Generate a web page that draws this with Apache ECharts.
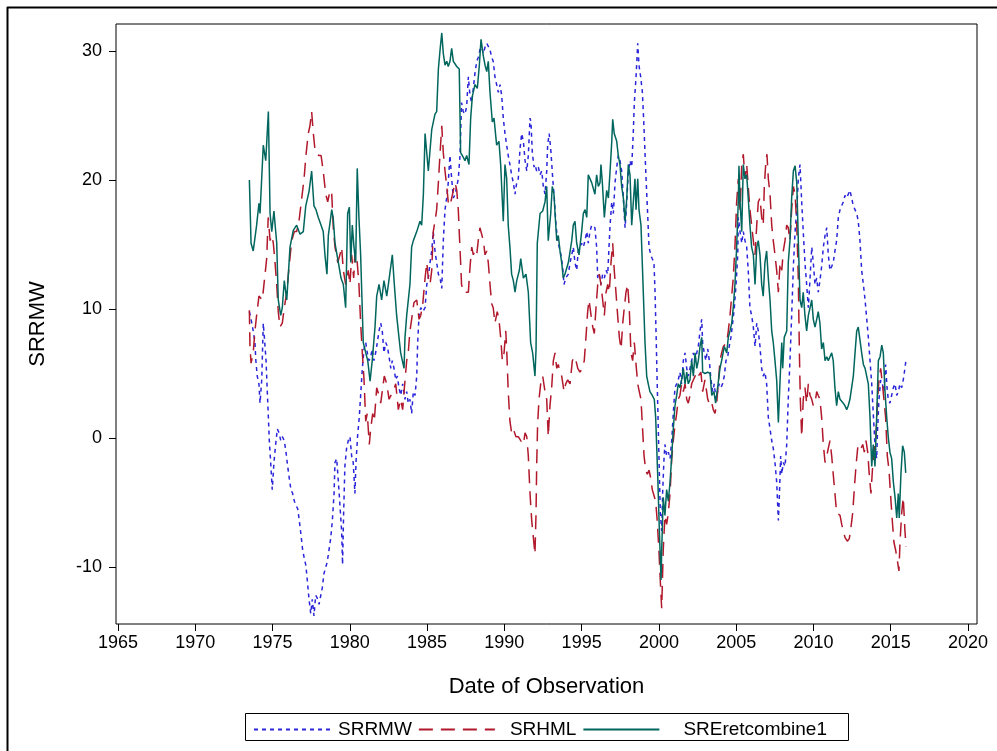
<!DOCTYPE html>
<html>
<head>
    <meta charset="utf-8">
    <title>SRRMW</title>
    <script src="https://cdn.jsdelivr.net/npm/echarts@6/dist/echarts.min.js"></script>
    <style>
        html, body { margin: 0; padding: 0; background: #fff; }
        #main { width: 997px; height: 751px; }
    </style>
</head>
<body>
<div id="main"></div>
<script type="text/javascript">
    // values: [decimal year, value]
    var srrmw = [[1973.50,9.8],[1973.61,9.2],[1973.75,8.3],[1973.86,7.4],[1973.92,6.0],[1974.01,4.8],[1974.12,4.2],[1974.19,2.7],[1974.30,4.5],[1974.40,8.9],[1974.47,7.8],[1974.58,6.0],[1974.66,3.6],[1974.73,1.6],[1974.79,-0.2],[1974.88,-1.9],[1974.98,-4.0],[1975.09,-1.9],[1975.20,-0.5],[1975.31,0.7],[1975.42,0.4],[1975.53,-0.2],[1975.63,0.1],[1975.76,-0.2],[1975.87,-1.1],[1975.98,-2.2],[1976.08,-3.1],[1976.19,-4.0],[1976.30,-4.3],[1976.41,-4.9],[1976.52,-5.2],[1976.63,-5.5],[1976.73,-6.4],[1976.84,-7.5],[1976.95,-8.7],[1977.05,-9.3],[1977.16,-9.9],[1977.27,-11.3],[1977.36,-12.5],[1977.47,-13.6],[1977.57,-12.5],[1977.68,-13.8],[1977.79,-12.2],[1977.89,-12.4],[1978.01,-12.9],[1978.12,-12.8],[1978.22,-11.6],[1978.33,-10.5],[1978.44,-10.5],[1978.54,-9.6],[1978.65,-8.7],[1978.76,-7.8],[1978.87,-6.4],[1978.98,-4.3],[1979.04,-1.9],[1979.15,-1.6],[1979.26,-3.4],[1979.36,-5.2],[1979.47,-7.2],[1979.53,-9.8],[1979.60,-5.8],[1979.68,-2.2],[1979.79,-0.8],[1979.90,-0.2],[1980.01,0.1],[1980.12,-1.4],[1980.22,-1.9],[1980.33,-4.3],[1980.40,-1.9],[1980.50,0.1],[1980.61,1.6],[1980.70,3.3],[1980.81,5.4],[1980.92,6.9],[1981.03,7.4],[1981.13,6.6],[1981.24,6.0],[1981.35,6.3],[1981.45,6.9],[1981.56,6.0],[1981.67,6.6],[1981.78,7.4],[1981.89,8.3],[1982.00,8.9],[1982.10,8.3],[1982.21,6.6],[1982.32,7.4],[1982.43,7.1],[1982.54,6.3],[1982.65,5.4],[1982.75,6.0],[1982.86,5.4],[1982.97,4.5],[1983.07,4.8],[1983.18,3.9],[1983.29,3.3],[1983.42,4.2],[1983.57,3.0],[1983.68,3.6],[1983.78,2.7],[1983.89,3.0],[1984.00,1.9],[1984.11,3.6],[1984.22,3.3],[1984.33,4.8],[1984.39,7.4],[1984.48,9.5],[1984.59,10.1],[1984.72,9.8],[1984.87,10.1],[1984.98,11.9],[1985.08,12.4],[1985.19,13.6],[1985.30,14.5],[1985.40,16.0],[1985.51,14.5],[1985.62,13.6],[1985.73,12.7],[1985.84,12.4],[1985.95,11.6],[1986.05,15.3],[1986.16,17.7],[1986.27,18.6],[1986.37,19.8],[1986.48,21.9],[1986.59,20.1],[1986.70,18.6],[1986.81,18.9],[1986.92,19.5],[1987.02,20.1],[1987.13,21.9],[1987.23,26.0],[1987.34,25.3],[1987.45,25.1],[1987.56,25.7],[1987.67,28.0],[1987.78,26.5],[1987.89,26.0],[1987.99,27.1],[1988.10,28.3],[1988.21,29.2],[1988.31,29.5],[1988.42,30.1],[1988.53,30.3],[1988.64,29.8],[1988.75,30.3],[1988.86,30.6],[1988.96,30.5],[1989.07,30.1],[1989.18,29.5],[1989.28,29.2],[1989.39,28.0],[1989.50,27.4],[1989.61,26.8],[1989.72,27.4],[1989.83,26.5],[1989.93,24.8],[1990.04,23.6],[1990.15,22.7],[1990.25,21.9],[1990.36,21.2],[1990.47,20.4],[1990.58,19.8],[1990.69,18.9],[1990.80,19.8],[1990.90,20.1],[1991.01,22.4],[1991.12,23.6],[1991.23,23.0],[1991.34,21.5],[1991.45,20.7],[1991.55,21.9],[1991.66,24.8],[1991.72,24.5],[1991.81,22.1],[1991.92,21.0],[1991.98,21.2],[1992.09,20.7],[1992.20,21.0],[1992.31,20.4],[1992.42,20.7],[1992.52,19.5],[1992.63,18.9],[1992.74,20.7],[1992.80,22.7],[1992.90,23.6],[1993.02,22.1],[1993.13,20.1],[1993.23,18.6],[1993.34,16.5],[1993.45,15.3],[1993.55,14.8],[1993.66,14.2],[1993.77,13.3],[1993.86,11.9],[1993.97,12.4],[1994.14,12.7],[1994.25,13.6],[1994.36,14.2],[1994.46,14.8],[1994.57,13.6],[1994.68,13.0],[1994.78,14.5],[1994.89,14.8],[1995.00,15.1],[1995.11,14.8],[1995.22,15.3],[1995.33,16.0],[1995.43,15.1],[1995.54,16.0],[1995.65,16.5],[1995.75,16.4],[1995.86,16.3],[1995.97,14.8],[1996.04,12.4],[1996.14,12.7],[1996.25,11.9],[1996.36,12.7],[1996.47,12.4],[1996.58,13.0],[1996.69,12.7],[1996.77,14.8],[1996.84,16.5],[1996.95,18.3],[1997.05,17.4],[1997.16,19.8],[1997.27,21.0],[1997.37,21.9],[1997.48,21.5],[1997.59,20.7],[1997.70,18.6],[1997.81,16.3],[1997.92,18.3],[1998.02,20.7],[1998.13,21.5],[1998.24,21.0],[1998.34,23.6],[1998.41,26.0],[1998.52,28.0],[1998.63,30.6],[1998.71,28.9],[1998.82,28.0],[1998.93,26.8],[1999.02,24.5],[1999.10,22.1],[1999.18,19.8],[1999.27,17.4],[1999.36,14.8],[1999.47,14.2],[1999.57,13.9],[1999.68,13.6],[1999.75,11.3],[1999.83,7.4],[1999.89,4.2],[1999.96,0.7],[2000.03,-2.8],[2000.09,-5.8],[2000.18,-7.2],[2000.24,-4.3],[2000.33,-1.6],[2000.39,-0.5],[2000.50,-1.4],[2000.61,-1.1],[2000.72,-1.6],[2000.83,-0.2],[2000.93,1.9],[2001.04,3.9],[2001.15,4.2],[2001.25,4.5],[2001.36,5.1],[2001.47,4.2],[2001.58,6.0],[2001.69,6.6],[2001.80,5.4],[2001.90,4.8],[2002.01,5.4],[2002.12,6.0],[2002.23,6.6],[2002.34,6.0],[2002.45,6.6],[2002.55,7.1],[2002.66,8.3],[2002.77,9.2],[2002.83,7.4],[2002.93,6.6],[2003.04,6.0],[2003.16,6.9],[2003.26,6.0],[2003.37,4.5],[2003.48,3.6],[2003.58,4.2],[2003.69,3.0],[2003.80,3.6],[2003.90,4.2],[2004.01,3.9],[2004.12,4.2],[2004.23,4.8],[2004.34,6.0],[2004.45,6.3],[2004.55,7.1],[2004.66,7.8],[2004.77,8.9],[2004.88,10.1],[2004.99,11.9],[2005.10,14.2],[2005.14,17.1],[2005.25,16.0],[2005.36,15.1],[2005.46,16.0],[2005.57,15.3],[2005.68,14.8],[2005.78,13.0],[2005.89,10.1],[2006.00,9.5],[2006.11,8.6],[2006.22,7.1],[2006.33,8.9],[2006.43,8.3],[2006.54,7.1],[2006.65,5.4],[2006.75,4.8],[2006.86,5.1],[2006.97,4.2],[2007.08,1.6],[2007.19,0.7],[2007.30,-0.2],[2007.40,-0.8],[2007.51,-1.9],[2007.62,-3.4],[2007.73,-6.4],[2007.79,-4.6],[2007.88,-1.4],[2007.95,-2.8],[2008.05,-1.9],[2008.16,-2.2],[2008.27,-0.5],[2008.37,3.0],[2008.48,6.0],[2008.59,9.5],[2008.70,13.3],[2008.81,16.0],[2008.92,17.7],[2009.02,20.1],[2009.13,21.2],[2009.24,18.3],[2009.34,16.0],[2009.45,13.6],[2009.56,11.9],[2009.67,10.1],[2009.78,12.4],[2009.89,14.8],[2009.99,13.6],[2010.10,11.9],[2010.21,12.4],[2010.31,11.3],[2010.42,12.2],[2010.53,13.3],[2010.64,14.8],[2010.75,15.7],[2010.86,16.3],[2010.96,14.2],[2011.07,13.0],[2011.18,13.3],[2011.28,13.6],[2011.39,14.5],[2011.50,15.3],[2011.61,17.1],[2011.72,17.7],[2011.83,17.7],[2011.93,18.3],[2012.04,18.8],[2012.15,18.6],[2012.25,18.9],[2012.36,19.2],[2012.47,18.6],[2012.58,18.0],[2012.69,18.0],[2012.80,17.4],[2012.90,16.8],[2013.01,15.3],[2013.12,13.0],[2013.23,11.9],[2013.34,10.7],[2013.45,9.2],[2013.55,7.8],[2013.66,6.0],[2013.77,4.2],[2013.87,1.9],[2013.98,-0.5],[2014.09,-1.6],[2014.15,0.7],[2014.24,3.0],[2014.35,4.5],[2014.46,4.2],[2014.56,3.6],[2014.67,5.7],[2014.76,3.9],[2014.84,3.0],[2014.95,2.7],[2015.06,3.3],[2015.17,3.9],[2015.28,4.2],[2015.39,3.3],[2015.49,3.6],[2015.60,4.2],[2015.71,3.9],[2015.81,4.5],[2015.92,5.4],[2015.99,6.1]];

    var srhml = [[1973.50,9.9],[1973.54,7.1],[1973.61,5.8],[1973.75,6.6],[1973.86,8.3],[1973.97,9.5],[1974.12,11.0],[1974.34,10.7],[1974.47,12.2],[1974.62,13.9],[1974.72,17.1],[1974.84,15.3],[1974.95,15.7],[1975.05,15.1],[1975.16,13.6],[1975.27,11.9],[1975.37,9.8],[1975.48,8.6],[1975.63,8.9],[1975.76,10.1],[1975.92,11.3],[1976.07,13.3],[1976.24,15.3],[1976.41,16.0],[1976.56,16.0],[1976.71,16.8],[1976.89,18.6],[1977.04,20.1],[1977.16,21.9],[1977.31,23.6],[1977.42,24.2],[1977.53,25.3],[1977.64,23.6],[1977.75,22.3],[1977.86,22.0],[1978.01,21.9],[1978.14,21.9],[1978.28,20.7],[1978.44,18.9],[1978.57,18.3],[1978.72,19.2],[1978.83,18.9],[1978.93,16.3],[1979.04,14.8],[1979.22,13.6],[1979.36,14.2],[1979.47,14.8],[1979.58,13.0],[1979.73,11.9],[1979.90,13.0],[1980.01,11.9],[1980.12,14.2],[1980.25,12.4],[1980.34,14.5],[1980.48,13.6],[1980.59,11.9],[1980.70,8.9],[1980.81,6.6],[1980.92,4.5],[1981.03,1.3],[1981.13,1.9],[1981.26,-0.5],[1981.35,0.7],[1981.48,1.9],[1981.58,1.3],[1981.74,3.9],[1981.89,3.3],[1982.00,2.7],[1982.13,3.9],[1982.23,4.8],[1982.39,4.2],[1982.54,3.0],[1982.66,3.3],[1982.81,3.6],[1982.97,4.2],[1983.14,2.2],[1983.29,3.0],[1983.42,2.2],[1983.51,3.6],[1983.68,6.0],[1983.78,6.6],[1983.89,8.3],[1984.00,9.2],[1984.15,10.5],[1984.33,10.7],[1984.48,9.2],[1984.59,9.5],[1984.72,10.4],[1984.87,12.4],[1984.98,13.6],[1985.08,12.4],[1985.19,11.9],[1985.30,13.0],[1985.40,16.0],[1985.51,16.8],[1985.62,17.7],[1985.73,19.8],[1985.84,22.1],[1985.95,24.2],[1986.05,22.1],[1986.16,20.7],[1986.27,19.5],[1986.37,18.3],[1986.48,18.0],[1986.59,18.6],[1986.70,18.6],[1986.81,19.8],[1986.92,19.2],[1987.02,17.7],[1987.08,16.0],[1987.17,13.6],[1987.23,11.9],[1987.34,11.3],[1987.50,11.3],[1987.67,11.3],[1987.78,13.3],[1987.89,14.8],[1987.99,14.2],[1988.10,14.5],[1988.21,14.2],[1988.31,15.3],[1988.42,16.3],[1988.53,16.4],[1988.64,15.3],[1988.75,14.2],[1988.86,14.5],[1988.96,13.6],[1989.07,11.9],[1989.18,10.4],[1989.28,10.1],[1989.39,8.9],[1989.54,9.8],[1989.65,9.2],[1989.76,7.8],[1989.87,6.0],[1989.98,6.6],[1990.09,8.3],[1990.15,6.9],[1990.25,3.6],[1990.36,1.3],[1990.47,0.4],[1990.58,0.7],[1990.75,0.1],[1990.90,0.1],[1991.06,-0.2],[1991.23,-0.5],[1991.34,0.4],[1991.45,0.1],[1991.55,-1.4],[1991.66,-4.3],[1991.77,-6.4],[1991.87,-6.4],[1991.98,-9.0],[1992.05,-5.8],[1992.09,-2.2],[1992.15,1.0],[1992.24,3.0],[1992.35,4.2],[1992.48,4.8],[1992.63,3.6],[1992.74,3.0],[1992.84,0.1],[1992.95,2.5],[1993.06,3.9],[1993.17,6.0],[1993.28,6.6],[1993.39,5.4],[1993.49,5.7],[1993.60,5.1],[1993.71,4.8],[1993.86,3.6],[1993.97,4.2],[1994.10,4.5],[1994.25,4.2],[1994.40,6.0],[1994.57,6.3],[1994.75,5.4],[1994.89,5.1],[1995.04,5.4],[1995.17,6.0],[1995.28,7.8],[1995.39,9.8],[1995.48,10.7],[1995.61,9.5],[1995.72,8.6],[1995.82,8.1],[1995.93,10.1],[1996.04,11.9],[1996.14,12.7],[1996.25,11.9],[1996.36,10.7],[1996.47,9.5],[1996.58,11.3],[1996.69,11.9],[1996.79,11.3],[1996.90,13.6],[1997.01,15.1],[1997.11,13.0],[1997.22,11.3],[1997.33,9.5],[1997.44,7.8],[1997.55,6.9],[1997.66,8.9],[1997.76,10.1],[1997.87,11.3],[1997.98,11.9],[1998.08,10.1],[1998.19,6.6],[1998.30,6.0],[1998.41,7.4],[1998.52,5.7],[1998.63,4.2],[1998.73,3.6],[1998.84,3.0],[1998.93,1.0],[1999.04,-1.4],[1999.15,-2.5],[1999.25,-2.8],[1999.36,-2.5],[1999.47,-3.1],[1999.57,-4.0],[1999.68,-4.0],[1999.79,-4.9],[1999.89,-6.4],[2000.00,-8.7],[2000.11,-11.6],[2000.18,-13.2],[2000.28,-8.7],[2000.39,-6.0],[2000.50,-6.7],[2000.61,-5.8],[2000.72,-4.3],[2000.83,-1.6],[2000.93,-0.2],[2001.04,1.0],[2001.15,1.9],[2001.25,3.0],[2001.36,3.3],[2001.47,4.2],[2001.58,3.6],[2001.69,4.2],[2001.80,3.0],[2001.90,2.7],[2002.01,3.3],[2002.12,4.2],[2002.23,4.5],[2002.34,4.8],[2002.45,5.1],[2002.55,4.8],[2002.72,5.1],[2002.83,3.6],[2002.98,4.5],[2003.16,3.0],[2003.31,2.5],[2003.42,2.7],[2003.52,2.2],[2003.63,1.9],[2003.74,2.7],[2003.84,4.2],[2003.95,6.0],[2004.06,6.6],[2004.17,7.1],[2004.28,7.1],[2004.39,7.4],[2004.49,8.3],[2004.60,9.5],[2004.71,11.0],[2004.81,12.4],[2004.92,14.8],[2005.03,18.3],[2005.14,20.1],[2005.25,17.7],[2005.36,21.2],[2005.46,22.0],[2005.57,20.1],[2005.68,21.2],[2005.78,19.5],[2005.89,17.7],[2006.00,16.5],[2006.11,15.3],[2006.22,14.2],[2006.33,16.5],[2006.43,18.3],[2006.54,18.6],[2006.65,17.1],[2006.75,16.5],[2006.82,19.5],[2006.91,21.2],[2006.99,22.0],[2007.08,20.1],[2007.19,18.9],[2007.30,16.5],[2007.40,15.3],[2007.51,14.2],[2007.62,13.0],[2007.73,11.3],[2007.84,13.6],[2007.95,13.0],[2008.05,14.5],[2008.16,15.3],[2008.27,16.5],[2008.37,16.3],[2008.48,15.3],[2008.59,17.7],[2008.70,19.5],[2008.81,18.9],[2008.92,16.5],[2009.02,12.4],[2009.09,6.6],[2009.15,3.0],[2009.24,0.1],[2009.34,3.0],[2009.45,3.9],[2009.56,2.7],[2009.67,4.2],[2009.78,3.3],[2009.89,3.0],[2009.99,2.5],[2010.10,2.7],[2010.21,3.6],[2010.31,3.3],[2010.42,3.0],[2010.53,1.6],[2010.64,-0.5],[2010.75,-1.9],[2010.86,-1.4],[2010.96,-0.8],[2011.07,-0.2],[2011.18,-1.4],[2011.28,-2.8],[2011.39,-4.3],[2011.50,-5.8],[2011.61,-5.8],[2011.72,-6.0],[2011.83,-6.7],[2011.93,-7.2],[2012.04,-7.7],[2012.19,-8.0],[2012.32,-7.8],[2012.43,-6.9],[2012.54,-5.8],[2012.64,-4.0],[2012.75,-2.2],[2012.86,-0.8],[2012.97,-0.5],[2013.08,-0.8],[2013.19,-0.5],[2013.29,-1.1],[2013.40,-0.2],[2013.51,-1.1],[2013.61,-2.8],[2013.72,-4.3],[2013.83,-2.2],[2013.94,-0.8],[2014.04,0.1],[2014.15,3.0],[2014.24,4.5],[2014.35,5.4],[2014.46,4.2],[2014.56,3.0],[2014.67,1.6],[2014.78,-1.4],[2014.89,-2.5],[2015.00,-4.6],[2015.10,-6.4],[2015.21,-8.1],[2015.32,-8.7],[2015.43,-9.5],[2015.53,-10.3],[2015.60,-8.1],[2015.71,-5.8],[2015.81,-4.6],[2015.92,-7.2],[2015.99,-8.4]];

    var sreretcombine1 = [[1973.50,20.0],[1973.61,15.1],[1973.75,14.5],[1973.86,15.5],[1973.97,16.5],[1974.12,18.2],[1974.19,17.4],[1974.40,22.7],[1974.56,21.5],[1974.73,25.3],[1974.84,17.4],[1974.95,16.0],[1975.09,17.6],[1975.27,15.1],[1975.37,10.7],[1975.53,9.5],[1975.63,10.1],[1975.76,12.2],[1975.92,10.7],[1976.13,14.8],[1976.34,16.1],[1976.56,16.5],[1976.78,15.8],[1976.99,16.0],[1977.15,18.0],[1977.36,19.1],[1977.53,20.7],[1977.68,18.0],[1977.81,17.7],[1977.96,17.1],[1978.14,16.5],[1978.28,16.0],[1978.39,14.2],[1978.52,12.7],[1978.61,15.7],[1978.83,17.7],[1978.93,17.0],[1979.04,15.1],[1979.26,13.6],[1979.43,12.4],[1979.58,11.9],[1979.73,10.1],[1979.86,17.4],[1979.97,17.9],[1980.06,13.6],[1980.16,16.5],[1980.27,14.8],[1980.38,13.6],[1980.48,20.9],[1980.59,17.1],[1980.70,14.2],[1980.87,7.4],[1981.03,6.6],[1981.16,6.0],[1981.31,4.4],[1981.45,6.0],[1981.63,8.6],[1981.74,11.0],[1981.89,11.9],[1982.06,10.7],[1982.21,12.2],[1982.39,11.0],[1982.55,12.4],[1982.75,14.2],[1982.88,11.9],[1983.03,9.5],[1983.18,7.8],[1983.29,6.6],[1983.51,5.4],[1983.57,7.8],[1983.68,9.5],[1983.89,11.9],[1984.00,14.8],[1984.11,15.3],[1984.33,16.0],[1984.54,16.8],[1984.65,16.5],[1984.76,18.9],[1984.87,23.6],[1985.08,20.7],[1985.30,23.9],[1985.40,23.9],[1985.51,25.1],[1985.62,25.3],[1985.73,28.6],[1985.84,30.1],[1985.95,31.4],[1986.05,29.8],[1986.16,28.9],[1986.27,29.2],[1986.37,28.8],[1986.48,29.2],[1986.59,30.2],[1986.70,29.2],[1986.92,28.8],[1987.08,28.6],[1987.17,22.1],[1987.28,21.9],[1987.45,21.5],[1987.56,21.9],[1987.71,21.2],[1987.82,24.8],[1987.93,26.5],[1988.10,27.4],[1988.25,27.1],[1988.38,28.9],[1988.49,30.9],[1988.64,29.6],[1988.75,28.9],[1988.86,28.4],[1988.96,29.2],[1989.07,26.8],[1989.22,24.5],[1989.33,24.8],[1989.50,22.7],[1989.65,23.0],[1989.76,21.2],[1989.93,16.8],[1990.04,21.2],[1990.15,20.1],[1990.25,16.5],[1990.36,14.8],[1990.47,12.7],[1990.58,12.2],[1990.69,11.3],[1990.80,12.2],[1990.97,13.0],[1991.06,13.9],[1991.23,12.4],[1991.40,12.7],[1991.55,11.3],[1991.70,7.4],[1991.83,6.6],[1991.98,4.8],[1992.05,6.9],[1992.13,15.1],[1992.31,17.4],[1992.48,17.6],[1992.63,18.3],[1992.74,19.5],[1992.84,15.3],[1993.00,17.4],[1993.10,19.5],[1993.21,18.9],[1993.28,17.4],[1993.39,15.3],[1993.49,15.7],[1993.60,14.5],[1993.71,13.6],[1993.81,12.4],[1993.92,12.7],[1994.14,13.6],[1994.36,15.3],[1994.46,16.5],[1994.57,16.8],[1994.68,15.1],[1994.83,14.2],[1995.00,16.0],[1995.11,17.4],[1995.22,17.7],[1995.33,17.1],[1995.43,20.4],[1995.54,20.4],[1995.65,19.8],[1995.75,19.8],[1995.86,18.9],[1995.97,20.4],[1996.08,19.5],[1996.19,19.8],[1996.25,21.2],[1996.34,19.8],[1996.47,17.1],[1996.62,19.2],[1996.73,18.6],[1996.84,20.7],[1996.95,23.0],[1997.01,24.7],[1997.11,23.6],[1997.27,23.0],[1997.37,21.9],[1997.48,21.2],[1997.59,19.5],[1997.70,18.6],[1997.81,16.8],[1997.92,18.6],[1998.02,21.2],[1998.13,20.4],[1998.24,16.5],[1998.34,16.5],[1998.45,20.1],[1998.52,17.7],[1998.63,20.1],[1998.71,17.7],[1998.84,16.5],[1998.99,11.3],[1999.10,7.4],[1999.21,4.8],[1999.31,4.2],[1999.42,3.6],[1999.57,3.3],[1999.70,3.0],[1999.79,1.6],[1999.92,-2.8],[2000.03,-7.2],[2000.14,-11.0],[2000.18,-8.7],[2000.28,-4.6],[2000.39,-6.0],[2000.50,-4.0],[2000.61,-4.9],[2000.72,-3.4],[2000.83,-1.4],[2000.93,0.7],[2001.04,2.5],[2001.15,3.3],[2001.25,4.2],[2001.36,3.9],[2001.47,4.5],[2001.58,5.4],[2001.69,4.2],[2001.80,5.1],[2001.90,4.2],[2002.01,4.5],[2002.12,6.0],[2002.23,4.8],[2002.34,6.6],[2002.45,5.4],[2002.55,6.0],[2002.66,7.1],[2002.77,7.8],[2002.83,5.1],[2002.98,5.0],[2003.16,5.1],[2003.31,5.0],[2003.42,3.3],[2003.56,3.6],[2003.67,2.7],[2003.80,3.9],[2003.95,5.4],[2004.06,6.0],[2004.23,7.1],[2004.39,6.6],[2004.49,7.8],[2004.60,8.3],[2004.71,8.9],[2004.81,10.1],[2004.92,11.9],[2005.03,14.8],[2005.14,18.5],[2005.18,21.1],[2005.25,18.3],[2005.36,16.0],[2005.46,21.2],[2005.57,20.1],[2005.68,20.4],[2005.78,18.6],[2005.89,16.5],[2006.00,14.8],[2006.11,14.2],[2006.22,11.9],[2006.33,14.8],[2006.43,15.3],[2006.54,14.2],[2006.65,11.9],[2006.75,11.0],[2006.86,13.6],[2006.97,14.5],[2007.08,12.4],[2007.19,10.7],[2007.30,8.3],[2007.40,7.4],[2007.51,6.0],[2007.62,4.5],[2007.73,1.2],[2007.84,4.5],[2007.95,7.4],[2008.01,5.4],[2008.11,7.8],[2008.27,8.3],[2008.37,13.6],[2008.48,15.3],[2008.59,18.6],[2008.70,20.7],[2008.81,21.1],[2008.92,19.8],[2009.02,15.3],[2009.13,10.7],[2009.24,10.1],[2009.34,11.3],[2009.45,9.5],[2009.56,8.3],[2009.67,9.5],[2009.78,10.1],[2009.89,10.7],[2009.99,9.2],[2010.10,8.6],[2010.21,9.2],[2010.31,9.8],[2010.42,8.9],[2010.53,6.9],[2010.64,7.4],[2010.75,6.0],[2010.86,6.3],[2010.96,6.0],[2011.07,6.3],[2011.18,6.6],[2011.28,6.0],[2011.39,3.9],[2011.50,2.5],[2011.61,3.6],[2011.72,3.0],[2011.83,3.0],[2011.93,2.7],[2012.04,2.5],[2012.15,2.2],[2012.25,2.5],[2012.36,3.0],[2012.47,3.0],[2012.58,4.8],[2012.69,6.6],[2012.80,8.3],[2012.90,8.6],[2013.01,8.6],[2013.12,6.6],[2013.23,5.7],[2013.34,5.4],[2013.45,5.4],[2013.55,4.2],[2013.66,1.6],[2013.77,-2.2],[2013.87,-0.5],[2013.98,-2.2],[2014.09,1.6],[2014.20,6.0],[2014.31,6.3],[2014.42,7.2],[2014.52,6.6],[2014.63,3.6],[2014.74,1.6],[2014.84,0.1],[2014.95,-1.1],[2015.06,-1.6],[2015.17,-3.4],[2015.28,-4.6],[2015.39,-6.2],[2015.49,-4.3],[2015.55,-6.2],[2015.66,-2.8],[2015.77,-0.6],[2015.88,-1.1],[2015.97,-2.7]];

    var seriesNames = ['SRRMW', 'SRHML', 'SREretcombine1'];
    var xTicks = [1965, 2020, 5];   // min, max, step
    var yTicks = [-10, 30, 10];

    // plot frame in pixels and where the first/last ticks sit
    var frame = {left: 116, top: 24, right: 977, bottom: 624};
    var xPx = [118, 968];   // 1965 and 2020
    var yPx = [567, 51];    // -10 and 30
    var xPer = (xPx[1] - xPx[0]) / (xTicks[1] - xTicks[0]);
    var yPer = (yPx[0] - yPx[1]) / (yTicks[1] - yTicks[0]);

    var font = 'Liberation Sans, Arial, sans-serif';
    var myChart = echarts.init(document.getElementById('main'), null, {renderer: 'canvas'});

    var option = {
        animation: false,
        backgroundColor: '#fff',
        grid: [
            {   // data area with its frame
                left: frame.left, top: frame.top,
                width: frame.right - frame.left, height: frame.bottom - frame.top,
                show: true, borderColor: '#000', borderWidth: 1, backgroundColor: 'transparent'
            },
            {   // carries only tick marks and labels
                left: xPx[0], top: yPx[1],
                width: xPx[1] - xPx[0], height: yPx[0] - yPx[1]
            }
        ],
        xAxis: [
            {
                type: 'value', gridIndex: 0,
                min: xTicks[0] - (xPx[0] - frame.left) / xPer,
                max: xTicks[1] + (frame.right - xPx[1]) / xPer,
                axisLine: {show: false, onZero: false}, axisTick: {show: false},
                axisLabel: {show: false}, splitLine: {show: false},
                name: 'Date of Observation', nameLocation: 'middle', nameGap: 52,
                nameTextStyle: {fontFamily: font, fontSize: 22, color: '#000'}
            },
            {
                type: 'value', gridIndex: 1, position: 'bottom',
                min: xTicks[0], max: xTicks[1], interval: xTicks[2],
                offset: frame.bottom - yPx[0],
                axisLine: {show: false, onZero: false},
                axisTick: {show: true, length: 7, lineStyle: {color: '#000', width: 1}},
                axisLabel: {fontFamily: font, fontSize: 18, color: '#000', margin: 10,
                    formatter: function (v) { return String(v); }},
                splitLine: {show: false}
            }
        ],
        yAxis: [
            {
                type: 'value', gridIndex: 0,
                min: yTicks[0] - (frame.bottom - yPx[0]) / yPer,
                max: yTicks[1] + (yPx[1] - frame.top) / yPer,
                axisLine: {show: false, onZero: false}, axisTick: {show: false},
                axisLabel: {show: false}, splitLine: {show: false},
                name: 'SRRMW', nameLocation: 'middle', nameGap: 67, nameRotate: 90,
                nameTextStyle: {fontFamily: font, fontSize: 22, color: '#000'}
            },
            {
                type: 'value', gridIndex: 1, position: 'left',
                min: yTicks[0], max: yTicks[1], interval: yTicks[2],
                offset: xPx[0] - frame.left,
                axisLine: {show: false, onZero: false},
                axisTick: {show: true, length: 7, lineStyle: {color: '#000', width: 1}},
                axisLabel: {fontFamily: font, fontSize: 18, color: '#000', margin: 14},
                splitLine: {show: false}
            }
        ],
        legend: {
            left: 248, top: 715,
            itemWidth: 76, itemHeight: 14, itemGap: 6,
            itemStyle: {opacity: 0},
            data: [
                {name: seriesNames[0], textStyle: {padding: [0, 0, 0, 3]}},
                {name: seriesNames[1], textStyle: {padding: [0, 8, 0, 10]}},
                {name: seriesNames[2], textStyle: {padding: [0, 0, 0, 19]}}
            ],
            textStyle: {fontFamily: font, fontSize: 19, color: '#000'}
        },
        graphic: [
            {type: 'line', shape: {x1: 7.5, y1: 7, x2: 7.5, y2: 751}, style: {stroke: '#000', lineWidth: 2}},
            {type: 'line', shape: {x1: 7, y1: 7.5, x2: 997, y2: 7.5}, style: {stroke: '#000', lineWidth: 2}},
            {type: 'rect', shape: {x: 245.5, y: 713.5, width: 603, height: 27},
                style: {fill: 'none', stroke: '#000', lineWidth: 1}}
        ],
        series: [
            {
                name: seriesNames[0], type: 'line', data: srrmw,
                xAxisIndex: 0, yAxisIndex: 0, symbol: 'none', showSymbol: false,
                color: '#2A25D9',
                lineStyle: {color: '#2A25D9', width: 1.5, type: [4, 4]}
            },
            {
                name: seriesNames[1], type: 'line', data: srhml,
                xAxisIndex: 0, yAxisIndex: 0, symbol: 'none', showSymbol: false,
                color: '#B2182B',
                lineStyle: {color: '#B2182B', width: 1.5, type: [14, 8]}
            },
            {
                name: seriesNames[2], type: 'line', data: sreretcombine1,
                xAxisIndex: 0, yAxisIndex: 0, symbol: 'none', showSymbol: false,
                color: '#01665E',
                lineStyle: {color: '#01665E', width: 1.5, type: 'solid'}
            }
        ]
    };

    myChart.setOption(option);
</script>
</body>
</html>
